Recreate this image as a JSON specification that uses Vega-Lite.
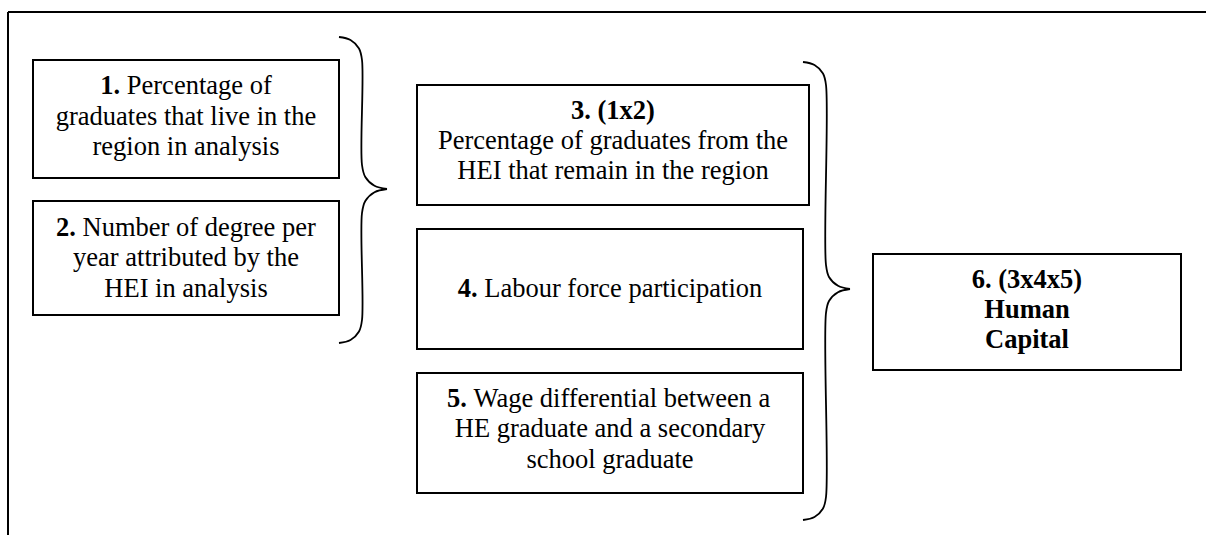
{
  "$schema": "https://vega.github.io/schema/vega-lite/v6.json",
  "width": 1206,
  "height": 535,
  "padding": 0,
  "autosize": {"type": "none"},
  "background": "white",
  "config": {"view": {"stroke": null}},
  "datasets": {
    "frame": [
      {"x": 8, "x2": 1206, "y": 12, "y2": 12},
      {"x": 8, "x2": 8, "y": 12, "y2": 535}
    ],
    "boxes": [
      {"box": "1", "x": 33, "x2": 339, "y": 60, "y2": 178},
      {"box": "2", "x": 33, "x2": 339, "y": 201, "y2": 315},
      {"box": "3", "x": 417, "x2": 809, "y": 85, "y2": 205},
      {"box": "4", "x": 417, "x2": 803, "y": 229, "y2": 349},
      {"box": "5", "x": 417, "x2": 803, "y": 373, "y2": 493},
      {"box": "6", "x": 873, "x2": 1181, "y": 254, "y2": 370}
    ],
    "braces": [
      {"part": "b1u", "ord": 1, "x": 339, "y": 37},
      {"part": "b1u", "ord": 2, "x": 350.5, "y": 40},
      {"part": "b1u", "ord": 3, "x": 359, "y": 48.5},
      {"part": "b1u", "ord": 4, "x": 362, "y": 60},
      {"part": "b1u", "ord": 5, "x": 362, "y": 165},
      {"part": "b1u", "ord": 6, "x": 365.3, "y": 177},
      {"part": "b1u", "ord": 7, "x": 374.5, "y": 185.8},
      {"part": "b1u", "ord": 8, "x": 387, "y": 189},
      {"part": "b1l", "ord": 1, "x": 387, "y": 189},
      {"part": "b1l", "ord": 2, "x": 374.5, "y": 192.2},
      {"part": "b1l", "ord": 3, "x": 365.3, "y": 201},
      {"part": "b1l", "ord": 4, "x": 362, "y": 213},
      {"part": "b1l", "ord": 5, "x": 362, "y": 320},
      {"part": "b1l", "ord": 6, "x": 359, "y": 331.5},
      {"part": "b1l", "ord": 7, "x": 350.5, "y": 340},
      {"part": "b1l", "ord": 8, "x": 339, "y": 343},
      {"part": "b2u", "ord": 1, "x": 803, "y": 62},
      {"part": "b2u", "ord": 2, "x": 814.5, "y": 65},
      {"part": "b2u", "ord": 3, "x": 823, "y": 73.5},
      {"part": "b2u", "ord": 4, "x": 826, "y": 85},
      {"part": "b2u", "ord": 5, "x": 826, "y": 265},
      {"part": "b2u", "ord": 6, "x": 829, "y": 277},
      {"part": "b2u", "ord": 7, "x": 838, "y": 285.8},
      {"part": "b2u", "ord": 8, "x": 850, "y": 289},
      {"part": "b2l", "ord": 1, "x": 850, "y": 289},
      {"part": "b2l", "ord": 2, "x": 838, "y": 292.2},
      {"part": "b2l", "ord": 3, "x": 829, "y": 301},
      {"part": "b2l", "ord": 4, "x": 826, "y": 313},
      {"part": "b2l", "ord": 5, "x": 826, "y": 497},
      {"part": "b2l", "ord": 6, "x": 823, "y": 508.5},
      {"part": "b2l", "ord": 7, "x": 814.5, "y": 517},
      {"part": "b2l", "ord": 8, "x": 803, "y": 520}
    ],
    "texts": [
      {"text": "1.", "weight": "bold", "align": "left", "x": 100.3, "y": 94},
      {"text": "Percentage of", "weight": "normal", "align": "left", "x": 126.8, "y": 94},
      {"text": "graduates that live in the", "weight": "normal", "align": "center", "x": 186, "y": 125},
      {"text": "region in analysis", "weight": "normal", "align": "center", "x": 186, "y": 155},
      {"text": "2.", "weight": "bold", "align": "left", "x": 56.1, "y": 236},
      {"text": "Number of degree per", "weight": "normal", "align": "left", "x": 82.6, "y": 236},
      {"text": "year attributed by the", "weight": "normal", "align": "center", "x": 186, "y": 266},
      {"text": "HEI in analysis", "weight": "normal", "align": "center", "x": 186, "y": 297},
      {"text": "3. (1x2)", "weight": "bold", "align": "center", "x": 613, "y": 119},
      {"text": "Percentage of graduates from the", "weight": "normal", "align": "center", "x": 613, "y": 149},
      {"text": "HEI that remain in the region", "weight": "normal", "align": "center", "x": 613, "y": 179},
      {"text": "4.", "weight": "bold", "align": "left", "x": 457.7, "y": 297},
      {"text": "Labour force participation", "weight": "normal", "align": "left", "x": 484.2, "y": 297},
      {"text": "5.", "weight": "bold", "align": "left", "x": 447, "y": 407},
      {"text": "Wage differential between a", "weight": "normal", "align": "left", "x": 473.5, "y": 407},
      {"text": "HE graduate and a secondary", "weight": "normal", "align": "center", "x": 610, "y": 437},
      {"text": "school graduate", "weight": "normal", "align": "center", "x": 610, "y": 468},
      {"text": "6. (3x4x5)", "weight": "bold", "align": "center", "x": 1027, "y": 288},
      {"text": "Human", "weight": "bold", "align": "center", "x": 1027, "y": 318},
      {"text": "Capital", "weight": "bold", "align": "center", "x": 1027, "y": 348}
    ]
  },
  "encoding": {
    "x": {"field": "x", "type": "quantitative", "scale": {"domain": [0, 1206], "nice": false, "zero": false}, "axis": null},
    "y": {"field": "y", "type": "quantitative", "scale": {"domain": [0, 535], "nice": false, "zero": false, "reverse": true}, "axis": null}
  },
  "layer": [
    {
      "data": {"name": "frame"},
      "mark": {"type": "rule", "color": "black", "strokeWidth": 2},
      "encoding": {"x2": {"field": "x2"}, "y2": {"field": "y2"}}
    },
    {
      "data": {"name": "boxes"},
      "mark": {"type": "rect", "fill": "white", "stroke": "black", "strokeWidth": 2},
      "encoding": {"x2": {"field": "x2"}, "y2": {"field": "y2"}}
    },
    {
      "data": {"name": "braces"},
      "mark": {"type": "line", "color": "black", "strokeWidth": 1.8, "interpolate": "catmull-rom"},
      "encoding": {"detail": {"field": "part"}, "order": {"field": "ord", "type": "quantitative"}}
    },
    {
      "data": {"name": "texts"},
      "transform": [{"filter": "datum.weight === 'normal' && datum.align === 'center'"}],
      "mark": {"type": "text", "font": "Liberation Serif", "fontSize": 26.5, "align": "center", "baseline": "alphabetic", "color": "black"},
      "encoding": {"text": {"field": "text"}}
    },
    {
      "data": {"name": "texts"},
      "transform": [{"filter": "datum.weight === 'normal' && datum.align === 'left'"}],
      "mark": {"type": "text", "font": "Liberation Serif", "fontSize": 26.5, "align": "left", "baseline": "alphabetic", "color": "black"},
      "encoding": {"text": {"field": "text"}}
    },
    {
      "data": {"name": "texts"},
      "transform": [{"filter": "datum.weight === 'bold' && datum.align === 'center'"}],
      "mark": {"type": "text", "font": "Liberation Serif", "fontSize": 26.5, "fontWeight": "bold", "align": "center", "baseline": "alphabetic", "color": "black"},
      "encoding": {"text": {"field": "text"}}
    },
    {
      "data": {"name": "texts"},
      "transform": [{"filter": "datum.weight === 'bold' && datum.align === 'left'"}],
      "mark": {"type": "text", "font": "Liberation Serif", "fontSize": 26.5, "fontWeight": "bold", "align": "left", "baseline": "alphabetic", "color": "black"},
      "encoding": {"text": {"field": "text"}}
    }
  ]
}
